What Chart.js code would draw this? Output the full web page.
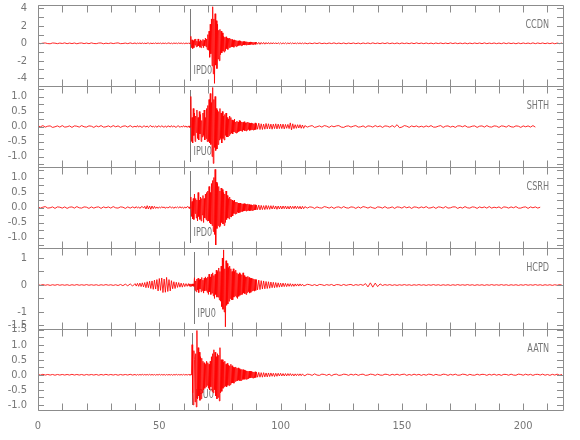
<!DOCTYPE html>
<html>
<head>
<meta charset="utf-8">
<script src="https://cdn.jsdelivr.net/npm/chart.js@4.4.0/dist/chart.umd.min.js"></script>
<style>
  html, body { margin: 0; padding: 0; background: #ffffff; }
  #c { display: block; background: #ffffff; }
</style>
</head>
<body>
<canvas id="c" width="580" height="440"></canvas>
<script>
// ---------------- DATA ----------------
const STATIONS = ['CCDN', 'SHTH', 'CSRH', 'HCPD', 'AATN'];
const PICK_LABELS = ['IPD0', 'IPU0', 'IPD0', 'IPU0', 'IPU0'];
const PICK_TIMES = [62.8, 62.8, 62.8, 64.3, 63.3];

// sampling of the traces: [start, end, step] in seconds
const SAMPLE_SEGMENTS = [[0, 40, 1], [40, 62, 0.5], [62, 90, 0.25], [90, 110, 0.5], [110, 217, 1]];

const X_MIN = 0, X_MAX = 216.4;
const X_TICKS = [0, 50, 100, 150, 200];
const X_MINOR = [0,10,20,30,40,50,60,70,80,90,100,110,120,130,140,150,160,170,180,190,200,210];

const Y_RANGES = [[-4.9, 4.4], [-1.35, 1.35], [-1.35, 1.35], [-1.63, 1.37], [-1.17, 1.52]];
const Y_TICKS = [
  [-4, -2, 0, 2, 4],
  [-1, -0.5, 0, 0.5, 1],
  [-1, -0.5, 0, 0.5, 1],
  [-1.5, -1, 0, 1],
  [-1, -0.5, 0, 0.5, 1, 1.5]
];
const Y_TICK_LABELS = [
  ['-4', '-2', '0', '2', '4'],
  ['-1.0', '-0.5', '0.0', '0.5', '1.0'],
  ['-1.0', '-0.5', '0.0', '0.5', '1.0'],
  ['-1.5', '-1', '0', '1'],
  ['-1.0', '-0.5', '0.0', '0.5', '1.0', '1.5']
];
const Y_MINOR = [
  [-4,-3,-2,-1,0,1,2,3,4],
  [-1.25,-1,-0.75,-0.5,-0.25,0,0.25,0.5,0.75,1,1.25],
  [-1.25,-1,-0.75,-0.5,-0.25,0,0.25,0.5,0.75,1,1.25],
  [-1.5,-1,-0.5,0,0.5,1],
  [-1,-0.75,-0.5,-0.25,0,0.25,0.5,0.75,1,1.25,1.5]
];

const CCDN = [
// 0-39 s
.03,-.04,.02,.04,-.03,-.05,.04,.02,-.04,.03,
-.02,.05,-.04,.03,-.03,.04,-.05,.02,.04,-.03,
.03,-.04,.05,-.02,-.04,.03,.04,-.05,.02,-.03,
.04,-.03,.02,.05,-.04,-.02,.03,-.04,.05,-.03,
// 40-61.5 s
.04,-.05,.03,-.02,.04,-.04,.05,-.03,.02,-.04,
.03,.04,-.05,.03,-.04,.02,-.03,.05,-.04,.03,
-.02,.04,-.05,.04,-.03,.03,-.04,.02,.05,-.04,
.03,-.05,.04,-.02,.03,-.04,.05,-.03,.04,-.04,
.03,-.05,.04,-.03,
// 62-89.75 s
.04,-.03,.05,-.04,.8,-.5,.4,-.6,
.3,-.5,.45,-.2,.5,-.4,.25,-.35,
.5,-.3,.2,-.45,.4,-.5,.3,-.25,
.45,-.5,.35,-.3,.6,-.4,.5,-.7,
1.0,-.8,1.4,-1.6,2.2,-1.2,2.8,-2.6,
4.2,-3.5,2.8,-4.6,3.4,-2.5,2.6,-2.9,
2.2,-1.8,1.5,-2.0,1.6,-1.3,1.4,-1.1,
1.2,-.9,.8,-1.0,.7,-.85,.75,-.6,
.6,-.7,.55,-.5,.6,-.45,.5,-.4,
.45,-.4,.35,-.45,.4,-.3,.35,-.38,
.3,-.32,.28,-.25,.3,-.22,.25,-.27,
.22,-.25,.2,-.18,.22,-.2,.17,-.2,
.18,-.15,.16,-.18,.14,-.15,.16,-.13,
.14,-.12,.13,-.14,.12,-.11,.13,-.12,
// 90-109.5 s
.12,-.1,.11,-.12,.1,-.09,.1,-.1,.09,-.08,
.09,-.09,.08,-.07,.08,-.08,.07,-.07,.07,-.06,
.06,-.07,.06,-.05,.06,-.06,.05,-.05,.06,-.05,
.05,-.05,.04,-.05,.05,-.04,.05,-.05,.04,-.05,
// 110-216 s
.04,-.05,.03,-.04,.04,-.03,.05,-.04,.02,-.04,
.04,-.03,.05,-.04,.03,-.04,.04,-.05,.03,-.03,
.04,-.04,.03,-.05,.04,-.03,.04,-.04,.05,-.03,
.03,-.04,.04,-.03,.05,-.04,.03,-.04,.04,-.05,
.04,-.03,.03,-.04,.04,-.04,.05,-.03,.03,-.04,
.04,-.04,.03,-.05,.04,-.03,.04,-.04,.03,-.04,
.05,-.03,.04,-.04,.03,-.04,.04,-.05,.03,-.04,
.04,-.03,.04,-.04,.05,-.04,.03,-.03,.04,-.04,
.03,-.04,.05,-.04,.04,-.03,.03,-.05,.04,-.04,
.04,-.03,.03,-.04,.05,-.04,.04,-.03,.04,-.04,
.03,-.04,.04,-.05,.03,-.04,.04
];

const SHTH = [
// 0-39 s
.02,-.01,.03,-.02,.01,.02,-.03,-.01,.02,-.02,
.03,-.02,-.01,.02,-.03,.02,.01,-.02,.03,-.01,
-.02,.02,.01,-.03,.02,-.01,.03,-.02,-.01,.02,
-.02,.03,-.01,.02,-.03,.01,.02,-.02,.03,-.02,
// 40-61.5 s
.01,-.02,.03,-.02,.02,-.01,-.03,.02,.01,-.02,
.02,-.03,.01,.03,-.02,.01,-.02,.02,-.03,.02,
.01,-.02,.03,-.01,-.02,.02,-.03,.02,.01,-.02,
.03,-.02,.02,-.01,-.03,.02,.02,-.03,.01,-.02,
.03,-.02,.02,-.03,
// 62-89.75 s
.02,-.03,.02,-.02,1.0,-.5,.3,-.55,
.6,-.3,.45,-.5,.35,-.2,.55,-.4,
.3,-.45,.5,-.25,.4,-.5,.2,-.35,
.45,-.3,.55,-.45,.3,-.4,.6,-.5,
.7,-.5,.9,-.55,1.1,-.6,.8,-1.0,
1.3,-1.23,.9,-.7,1.0,-.8,.6,-.75,
.55,-.6,.5,-.45,.6,-.4,.45,-.55,
.5,-.4,.35,-.45,.4,-.3,.45,-.35,
.3,-.35,.25,-.3,.35,-.25,.3,-.22,
.22,-.25,.2,-.18,.25,-.2,.15,-.22,
.18,-.2,.15,-.17,.2,-.15,.18,-.14,
.15,-.17,.14,-.12,.16,-.14,.12,-.15,
.13,-.12,.15,-.1,.12,-.13,.11,-.12,
.12,-.1,.11,-.12,.09,-.11,.12,-.1,
// 90-109.5 s
.1,-.09,.11,-.1,.09,-.1,.08,-.09,.1,-.08,
.09,-.08,.08,-.09,.08,-.07,.09,-.08,.08,-.07,
.08,-.07,.08,-.08,.07,-.06,.07,-.07,.12,-.11,
.09,-.07,.06,-.06,.06,-.05,.06,-.06,.05,-.06,
// 110-205 s
.03,-.02,.01,.03,-.03,-.01,.02,-.02,.03,.01,
-.03,.02,-.01,.02,.03,-.02,-.03,.01,.02,-.02,
.01,.03,-.02,-.01,.02,-.03,.02,.01,-.02,.03,
-.01,.02,-.03,.02,.01,-.02,.03,-.02,.06,-.04,
-.02,.03,.01,-.03,.02,-.01,.02,-.02,.01,-.02,
.02,-.01,.03,-.02,-.02,.01,.03,-.03,.01,.02,
-.02,.01,-.03,.02,.02,-.01,.03,-.02,-.02,.01,
.02,-.03,.01,.02,-.02,.03,-.01,-.02,.02,.01,
-.03,.02,.01,-.02,.03,-.01,-.02,.02,.01,-.03,
.02,-.01,.02,-.02,.03,-.02
];

const CSRH = [
// 0-39 s
.02,-.02,.01,.03,-.02,-.01,.02,-.03,.02,.01,
-.02,.02,-.03,.01,.02,-.02,.03,-.01,-.02,.02,
.01,-.03,.02,-.02,.01,.02,-.03,.02,-.01,.02,
-.02,.03,-.01,-.02,.02,.01,-.03,.02,-.02,.02,
// 40-61.5 s
-.02,.03,-.02,.02,-.03,.02,.03,-.02,.04,-.05,
.06,-.05,.05,-.06,.05,-.04,.04,-.03,.02,-.03,
.02,-.02,.03,-.01,.02,-.03,.02,-.02,.01,.03,
-.02,.02,-.03,.02,-.01,.02,-.02,.03,-.02,.02,
-.03,.02,-.02,.03,
// 62-89.75 s
.02,-.03,.02,-.02,.35,-.3,.2,-.38,
.3,-.4,.45,-.2,.3,-.35,.25,-.45,
.5,-.3,.25,-.4,.35,-.45,.3,-.25,
.4,-.5,.3,-.35,.45,-.4,.5,-.45,
.55,-.45,.7,-.5,.5,-.55,.8,-.6,
.9,-.8,1.0,-.9,1.27,-1.25,.85,-.7,
.8,-.6,.7,-.65,.55,-.6,.65,-.5,
.6,-.55,.5,-.6,.45,-.5,.55,-.4,
.4,-.35,.3,-.38,.35,-.3,.28,-.32,
.25,-.28,.22,-.2,.25,-.22,.18,-.2,
.18,-.16,.15,-.18,.14,-.16,.15,-.13,
.13,-.14,.12,-.12,.13,-.11,.12,-.12,
.11,-.1,.12,-.1,.1,-.11,.09,-.1,
.09,-.1,.08,-.09,.1,-.08,.09,-.08,
// 90-109.5 s
.08,-.07,.08,-.08,.07,-.07,.06,-.07,.07,-.06,
.06,-.06,.06,-.05,.06,-.05,.05,-.06,.05,-.05,
.05,-.05,.05,-.04,.05,-.05,.04,-.05,.05,-.04,
.04,-.04,.05,-.04,.04,-.04,.04,-.05,.04,-.04,
// 110-207 s
.03,-.02,.02,.01,-.03,.02,-.01,-.02,.03,.01,
-.02,.02,-.03,.01,.02,-.02,.03,-.01,-.02,.02,
.01,-.03,.02,-.02,.03,.01,-.02,.02,-.01,-.03,
.02,.01,-.02,.03,-.02,-.01,.02,-.03,.02,.01,
-.02,.03,-.01,.02,-.03,.02,.01,-.02,.02,-.01,
.03,-.02,-.01,.02,-.03,.02,.01,-.02,.03,-.02,
-.01,.02,.02,-.03,.01,-.02,.03,-.01,-.02,.02,
.01,-.03,.02,-.01,.02,-.02,.03,-.02,.01,-.01,
.02,-.03,.02,.01,-.02,.02,-.01,.03,-.02,-.02,
.01,.02,-.03,.02,-.01,.02,-.02,.01
];

const HCPD = [
// 0-39 s
.01,-.01,.015,-.01,.01,-.015,.01,-.01,.015,-.01,
.01,-.01,.01,-.015,.01,-.01,.015,-.01,.01,-.01,
.015,-.01,.01,-.01,.01,-.015,.01,-.01,.015,-.01,
.01,-.015,.01,-.02,.02,-.025,.03,-.03,.04,-.04,
// 40-61.5 s
.05,-.04,.06,-.05,.07,-.06,.08,-.07,.09,-.1,
.12,-.1,.14,-.13,.15,-.16,.18,-.15,.2,-.22,
.24,-.2,.26,-.28,.22,-.27,.28,-.24,.2,-.22,
.16,-.14,.12,-.13,.1,-.09,.09,-.08,.07,-.08,
.06,-.06,.05,-.05,
// 62-89.75 s
.05,-.04,.04,-.05,.04,-.05,.04,-.04,
.04,-.05,.27,-.2,.15,-.25,.22,-.18,
.25,-.28,.2,-.15,.22,-.25,.28,-.2,
.18,-.3,.25,-.22,.3,-.2,.25,-.27,
.3,-.35,.4,-.25,.3,-.35,.4,-.3,
.45,-.4,.35,-.5,.4,-.35,.55,-.45,
.5,-.45,.63,-.55,.5,-.6,.7,-.8,
1.0,-.9,1.3,-1.0,.6,-1.55,.9,-.75,
.8,-.7,.65,-.6,.7,-.5,.6,-.55,
.5,-.55,.6,-.45,.5,-.4,.55,-.45,
.45,-.5,.4,-.42,.45,-.38,.4,-.35,
.38,-.35,.45,-.3,.35,-.32,.3,-.35,
.3,-.28,.32,-.25,.28,-.3,.25,-.27,
.25,-.22,.24,-.2,.22,-.23,.2,-.2,
// 90-109.5 s
.2,-.18,.18,-.17,.16,-.15,.15,-.14,.13,-.13,
.12,-.12,.11,-.1,.1,-.1,.09,-.09,.08,-.08,
.07,-.07,.07,-.06,.06,-.06,.05,-.05,.05,-.05,
.04,-.05,.04,-.04,.04,-.04,.04,-.03,.03,-.03,
// 110-216 s
-.02,.025,.01,-.02,.015,-.025,.02,.01,-.02,.015,
-.01,.02,-.025,.015,.01,-.02,.02,-.015,.01,.02,
-.02,.015,-.01,.02,-.015,
.05,-.07,.08,-.08,.07,-.06,.04,
-.02,.015,-.01,.015,-.015,.01,-.015,.01,-.01,.015,
-.01,.01,-.015,.01,-.01,.015,-.01,.01,-.015,.01,
-.01,.015,-.01,.01,-.015,.01,-.01,.01,-.015,.01,
-.01,.015,-.01,.01,-.01,.015,-.01,.01,-.015,.01,
-.01,.01,-.015,.01,-.01,.015,-.01,.01,-.01,.015,
-.01,.01,-.015,.01,-.01,.01,-.015,.01,-.01,.015,
-.01,.01,-.01,.015,-.01,.01,-.015,.01,-.01,.01,
-.015,.01,-.01,.015,-.01
];

const AATN = [
// 0-39 s
.01,-.01,.015,-.01,.01,-.01,.01,-.015,.01,-.01,
.01,-.01,.01,-.01,.015,-.01,.01,-.01,.01,-.015,
.01,-.01,.01,-.01,.01,-.015,.01,-.01,.015,-.01,
.01,-.01,.01,-.015,.01,-.01,.01,-.01,.015,-.01,
// 40-61.5 s
.01,-.015,.01,-.01,.01,-.01,.015,-.01,.01,-.01,
.01,-.01,.015,-.01,.01,-.01,.01,-.015,.01,-.01,
.015,-.01,.01,-.01,.01,-.015,.01,-.01,.01,-.01,
.01,-.015,.01,-.01,.015,-.01,.01,-.01,.01,-.01,
.015,-.01,.01,-.01,
// 62-89.75 s
.01,-.01,.01,-.01,.01,-.01,1.0,-.6,
-1.0,.8,.5,-.9,.7,-1.07,1.47,-.8,
.9,-.7,.75,-.85,.6,-.8,.55,-.6,
.45,-.5,.4,-.45,.35,-.4,.45,-.35,
.4,-.45,.35,-.5,.45,-.4,.6,-.55,
.7,-.6,.83,-.5,.75,-.7,.6,-.8,
.7,-.75,.65,-.87,.9,-.6,.5,-.55,
.5,-.45,.42,-.4,.45,-.38,.35,-.4,
.38,-.35,.32,-.36,.3,-.33,.35,-.28,
.3,-.27,.25,-.28,.24,-.22,.26,-.2,
.22,-.2,.23,-.18,.2,-.2,.17,-.19,
.18,-.16,.17,-.15,.16,-.15,.14,-.15,
.13,-.14,.12,-.13,.12,-.11,.12,-.1,
.11,-.1,.1,-.11,.09,-.1,.1,-.09,
// 90-109.5 s
.09,-.08,.08,-.08,.07,-.08,.07,-.07,.06,-.07,
.06,-.06,.06,-.05,.05,-.06,.05,-.05,.05,-.04,
.05,-.04,.04,-.04,.04,-.04,.04,-.03,.04,-.03,
.03,-.04,.03,-.03,.03,-.03,.03,-.03,.03,-.02,
// 110-216 s
-.03,.02,.01,-.02,.03,-.01,-.02,.02,.01,-.02,
.02,-.03,.01,.02,-.02,-.01,.02,.01,-.02,.02,
-.01,.02,-.02,.01,.02,-.02,-.01,.02,.01,-.02,
.02,-.01,-.015,.02,.01,-.02,.015,-.01,.02,-.015,
.01,.02,-.02,.01,-.015,.02,-.01,.015,-.02,.01,
-.015,.02,.01,-.02,.015,-.01,-.015,.02,.01,-.02,
.015,-.01,.02,-.015,-.01,.02,.01,-.02,.015,-.01,
-.015,.02,-.01,.015,.01,-.02,.015,-.01,.02,-.015,
.01,-.02,.015,.01,-.015,.02,-.01,-.015,.02,.01,
-.015,.02,-.01,.015,-.02,.01,.015,-.01,.02,-.015,
.01,-.02,.015,-.01,.02,-.015,.01
];

const SERIES = [CCDN, SHTH, CSRH, HCPD, AATN];

// ---------------- BUILD ----------------
const TIMES = [];
for (const [a, b, s] of SAMPLE_SEGMENTS) {
  for (let k = 0; a + k * s < b - 1e-9; k++) TIMES.push(+(a + k * s).toFixed(3));
}

const FONT = "'DejaVu Sans Condensed', 'DejaVu Sans', sans-serif";
const TEXT_COLOR = '#767676';
const FRAME_COLOR = '#8c8c8c';
const PICK_COLOR = '#7a7a7a';
const TRACE_COLOR = '#ff0000';

Chart.defaults.font.family = FONT;
Chart.defaults.font.size = 11;
Chart.defaults.color = TEXT_COLOR;

const yId = i => 'y' + STATIONS[i];

const scales = {
  x: {
    type: 'linear', position: 'bottom', min: X_MIN, max: X_MAX,
    grid: { display: false }, border: { display: false },
    afterBuildTicks: s => { s.ticks = X_TICKS.map(v => ({ value: v })); },
    ticks: { color: TEXT_COLOR, padding: 2, maxRotation: 0, autoSkip: false,
             font: { family: FONT, size: 11 } },
    afterFit: s => { s.height = 30; s.paddingLeft = 0; s.paddingRight = 0; }
  }
};
// bottom panel first: Chart.js places the last-declared stacked left axis on top
for (let i = STATIONS.length - 1; i >= 0; i--) {
  scales[yId(i)] = {
    type: 'linear', position: 'left', stack: 'traces', stackWeight: 1,
    min: Y_RANGES[i][0], max: Y_RANGES[i][1],
    grid: { display: false }, border: { display: false },
    afterBuildTicks: s => { s.ticks = Y_TICKS[i].map(v => ({ value: v })); },
    ticks: { color: TEXT_COLOR, padding: 3, autoSkip: false,
             font: { family: FONT, size: 11 },
             callback: (v, idx) => Y_TICK_LABELS[i][idx] },
    afterFit: s => { s.width = 38; s.paddingTop = 0; s.paddingBottom = 0; }
  };
}

const datasets = SERIES.map((vals, i) => ({
  label: STATIONS[i],
  data: vals.map((v, k) => ({ x: TIMES[k], y: v })),
  yAxisID: yId(i),
  xAxisID: 'x',
  borderColor: TRACE_COLOR,
  borderWidth: 0.85,
  pointRadius: 0,
  fill: false,
  tension: 0
}));

function narrowText(ctx, text, x, y, align) {
  ctx.save();
  ctx.translate(x, y);
  ctx.scale(0.75, 1);
  ctx.textAlign = align;
  ctx.textBaseline = 'middle';
  ctx.fillText(text, 0, 0);
  ctx.restore();
}

const panelPlugin = {
  id: 'panels',
  beforeDatasetsDraw(chart) {
    const { ctx, chartArea, scales } = chart;
    const xs = scales.x;
    ctx.save();
    STATIONS.forEach((st, i) => {
      const ys = scales[yId(i)];
      const px = Math.round(xs.getPixelForValue(PICK_TIMES[i])) + 0.5;
      ctx.strokeStyle = PICK_COLOR;
      ctx.lineWidth = 1;
      ctx.beginPath();
      ctx.moveTo(px, ys.top + 4);
      ctx.lineTo(px, ys.bottom - 5);
      ctx.stroke();
      ctx.fillStyle = TEXT_COLOR;
      ctx.font = '12px ' + FONT;
      narrowText(ctx, PICK_LABELS[i], px + 3, ys.bottom - 15, 'left');
      narrowText(ctx, st, chartArea.right - 14, ys.top + 20, 'right');
    });
    ctx.restore();
  },
  afterDatasetsDraw(chart) {
    const { ctx, chartArea, scales } = chart;
    const xs = scales.x;
    const L = chartArea.left, R = chartArea.right;
    ctx.save();
    ctx.strokeStyle = FRAME_COLOR;
    ctx.lineWidth = 1;
    ctx.beginPath();
    STATIONS.forEach((st, i) => {
      const ys = scales[yId(i)];
      const T = Math.round(ys.top) + 0.5, B = Math.round(ys.bottom) + 0.5;
      ctx.rect(Math.round(L) + 0.5, T, Math.round(R) - Math.round(L), B - T);
      X_MINOR.forEach(v => {
        const px = Math.round(xs.getPixelForValue(v)) + 0.5;
        ctx.moveTo(px, T); ctx.lineTo(px, T + 7);
        ctx.moveTo(px, B); ctx.lineTo(px, B - 7);
      });
      Y_MINOR[i].forEach(v => {
        const py = Math.round(ys.getPixelForValue(v)) + 0.5;
        ctx.moveTo(L, py); ctx.lineTo(L + 6, py);
        ctx.moveTo(R, py); ctx.lineTo(R - 6, py);
      });
    });
    ctx.stroke();
    ctx.restore();
  }
};

new Chart(document.getElementById('c').getContext('2d'), {
  type: 'line',
  data: { datasets },
  options: {
    responsive: false,
    animation: false,
    devicePixelRatio: 1,
    layout: { padding: { top: 5, right: 17, left: 0, bottom: 0 } },
    plugins: { legend: { display: false }, tooltip: { enabled: false } },
    scales
  },
  plugins: [panelPlugin]
});
</script>
</body>
</html>
